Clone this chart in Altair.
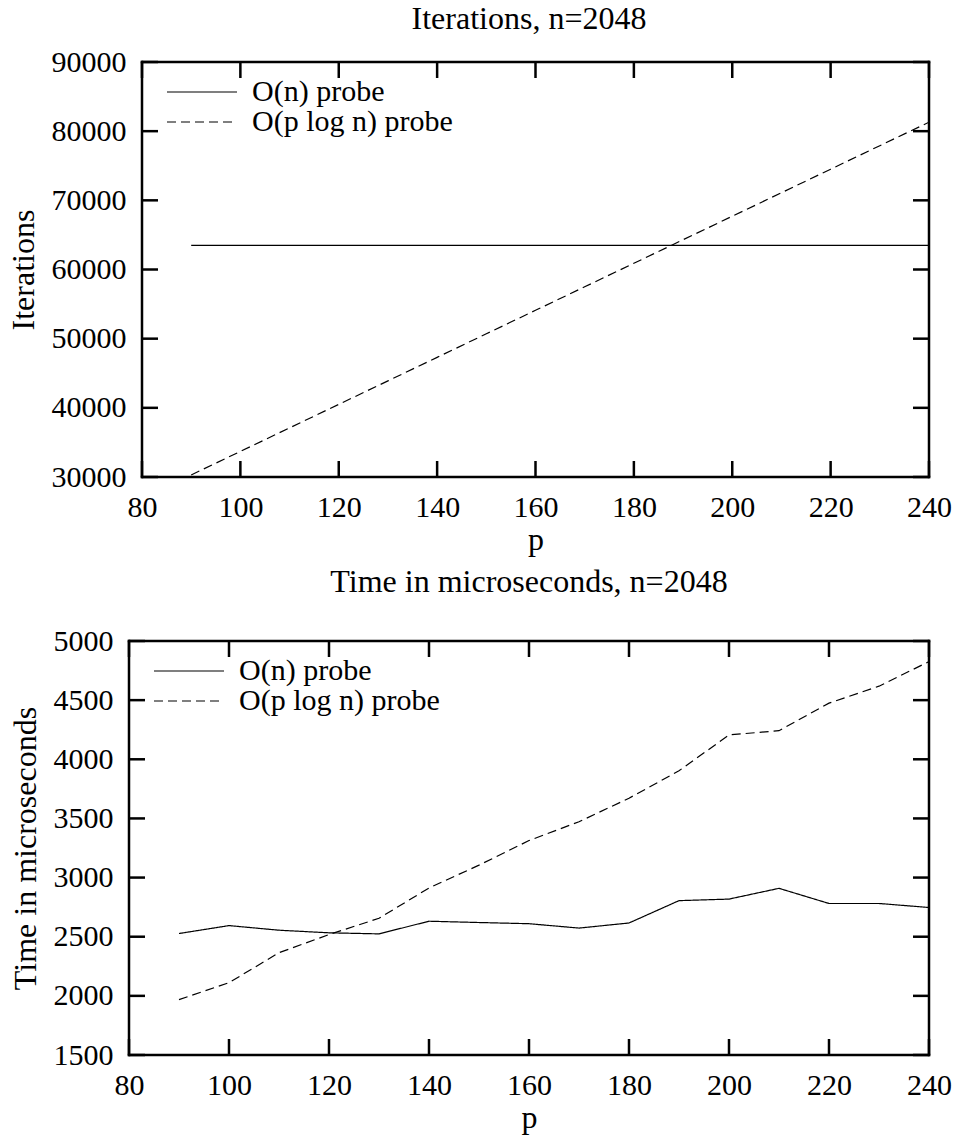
import altair as alt
import pandas as pd

# ---- data ----
p_values = [90, 100, 110, 120, 130, 140, 150, 160, 170, 180, 190, 200, 210, 220, 230, 240]

iter_on = [63500, 63500, 63500, 63500, 63500, 63500, 63500, 63500,
           63500, 63500, 63500, 63500, 63500, 63500, 63500, 63500]
iter_plogn = [30300, 33700, 37100, 40500, 43900, 47300, 50700, 54100,
              57500, 60900, 64300, 67700, 71100, 74500, 77900, 81300]

time_on = [2527, 2594, 2555, 2533, 2524, 2631, 2620, 2610,
           2573, 2616, 2805, 2818, 2909, 2781, 2781, 2747]
time_plogn = [1968, 2111, 2365, 2518, 2656, 2912, 3105, 3313,
              3472, 3671, 3903, 4206, 4242, 4475, 4618, 4826]

series_names = ["O(n) probe", "O(p log n) probe"]

x_ticks = [80, 100, 120, 140, 160, 180, 200, 220, 240]
iter_ticks = [30000, 40000, 50000, 60000, 70000, 80000, 90000]
time_ticks = [1500, 2000, 2500, 3000, 3500, 4000, 4500, 5000]

FONT = "Liberation Serif, Tinos, Times New Roman, DejaVu Serif, serif"
FS = 30      # tick labels
FT = 32      # titles
FL = 30      # legend labels
TICK = 16
TW = 2.5


def long_df(a, b):
    rows = []
    for name, vals in zip(series_names, [a, b]):
        for pv, v in zip(p_values, vals):
            rows.append({"p": pv, "y": v, "series": name})
    return pd.DataFrame(rows)


def panel(df, yticks, ydom, ytitle, title, W, left_gap, H, ylab_pad, title_offset, p_pad):
    xscale = alt.Scale(domain=[80, 240], nice=False, zero=False, range=[left_gap, W])
    yscale = alt.Scale(domain=ydom, nice=False, zero=False)
    xaxis = alt.Axis(values=x_ticks, title="p", labelOverlap=False, labelFlush=False,
                     labelPadding=15, titlePadding=p_pad, format="d")
    yaxis = alt.Axis(values=yticks, title=ytitle, labelOverlap=False, labelFlush=False,
                     labelPadding=ylab_pad, titlePadding=11, format="d")
    X = alt.X("p:Q", scale=xscale, axis=xaxis)
    Y = alt.Y("y:Q", scale=yscale, axis=yaxis)

    lines = alt.Chart(df).mark_line(color="black", strokeWidth=1.2, clip=True).encode(
        x=X, y=Y,
        strokeDash=alt.StrokeDash(
            "series:N",
            scale=alt.Scale(domain=series_names, range=[[1, 0], [9, 5]]),
            legend=alt.Legend(orient="none", legendX=left_gap + 24, legendY=16, title=None,
                              symbolType="stroke", symbolSize=4900,
                              symbolStrokeWidth=1.2, symbolStrokeColor="black",
                              labelFontSize=FL, labelFont=FONT, labelColor="black",
                              labelOffset=14, labelLimit=500, rowPadding=0,
                              clipHeight=28),
        ),
        detail="series:N",
    )

    xt = pd.DataFrame({"p": x_ticks})
    yt = pd.DataFrame({"y": yticks})
    rule = dict(color="black", strokeWidth=TW)
    bottom_ticks = alt.Chart(xt).mark_rule(**rule, y2Offset=-TICK).encode(
        x=X, y=alt.value(H), y2=alt.value(H))
    top_ticks = alt.Chart(xt).mark_rule(**rule, y2Offset=TICK).encode(
        x=X, y=alt.value(0), y2=alt.value(0))
    left_ticks = alt.Chart(yt).mark_rule(**rule, x2Offset=TICK).encode(
        y=Y, x=alt.datum(80), x2=alt.datum(80))
    right_ticks = alt.Chart(yt).mark_rule(**rule, x2Offset=-TICK).encode(
        y=Y, x=alt.datum(240), x2=alt.datum(240))

    frame = dict(color="black", strokeWidth=TW, strokeCap="square")
    one = pd.DataFrame({"k": [0]})
    box_left = alt.Chart(one).mark_rule(**frame).encode(
        x=alt.datum(80), y=alt.datum(ydom[0]), y2=alt.datum(ydom[1]))
    box_right = alt.Chart(one).mark_rule(**frame).encode(
        x=alt.datum(240), y=alt.datum(ydom[0]), y2=alt.datum(ydom[1]))
    box_top = alt.Chart(one).mark_rule(**frame).encode(
        y=alt.datum(ydom[1]), x=alt.datum(80), x2=alt.datum(240))
    box_bottom = alt.Chart(one).mark_rule(**frame).encode(
        y=alt.datum(ydom[0]), x=alt.datum(80), x2=alt.datum(240))

    return alt.layer(lines, bottom_ticks, top_ticks, left_ticks, right_ticks,
                     box_left, box_right, box_top, box_bottom).properties(
        width=W, height=H,
        title=alt.TitleParams(title, fontSize=FT, font=FONT, fontWeight="normal",
                              color="black", anchor="middle", offset=title_offset),
    )


top = panel(long_df(iter_on, iter_plogn), iter_ticks, [30000, 90000], "Iterations",
            "Iterations, n=2048", 800, 13, 415, 3, 11, 2)
bottom = panel(long_df(time_on, time_plogn), time_ticks, [1500, 5000],
               "Time in microseconds", "Time in microseconds, n=2048", 800, 0, 414, 16, 27, 2)

chart = alt.vconcat(top, bottom, spacing=11).resolve_scale(
    strokeDash="independent", x="independent", y="independent"
).resolve_legend(strokeDash="independent").properties(
    padding={"left": 7, "top": 3, "right": 5, "bottom": 5}
).configure(font=FONT, background="white").configure_view(
    stroke="transparent", strokeWidth=0
).configure_axis(
    grid=False, ticks=False, tickSize=0, domain=False,
    labelFont=FONT, labelFontSize=FS, labelColor="black",
    titleFont=FONT, titleFontSize=FT, titleFontWeight="normal", titleColor="black",
)

chart.save("out.html", embed_options={"renderer": "svg", "actions": False})
